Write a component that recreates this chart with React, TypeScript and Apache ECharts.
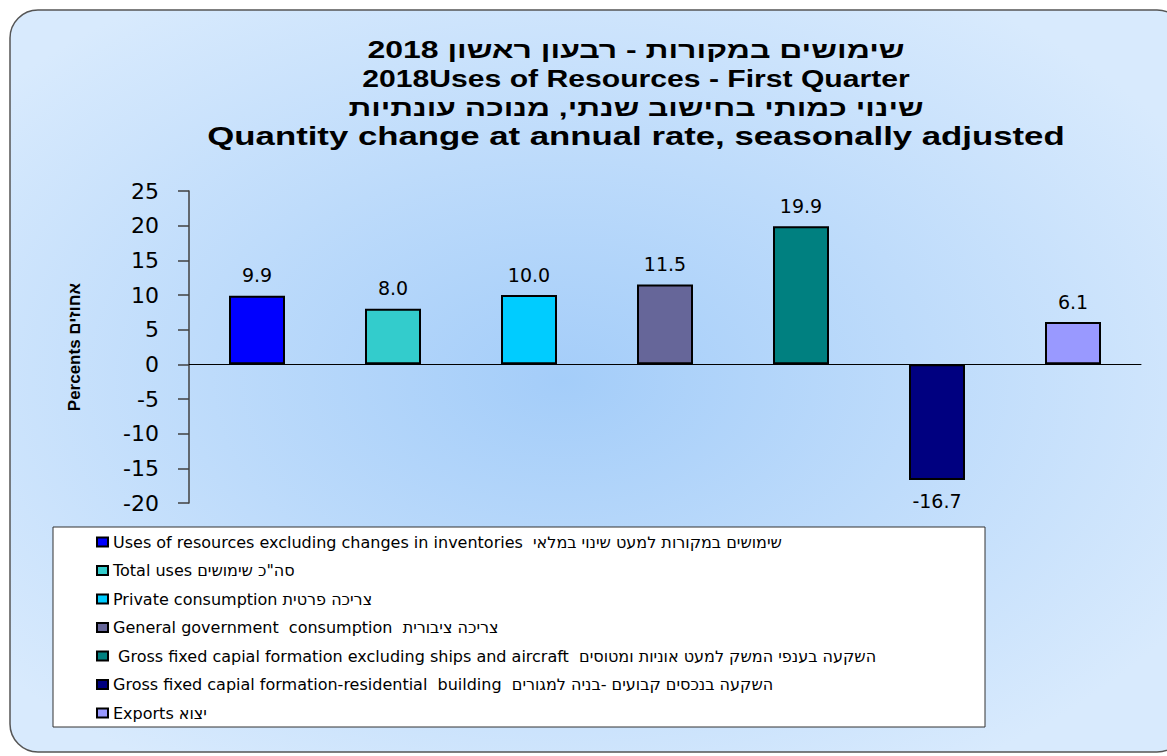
import React, { useEffect, useRef } from "react";
import * as echarts from "echarts";

const titleLines = [
  "שימושים במקורות - רבעון ראשון 2018",
  "2018Uses of Resources - First Quarter",
  "שינוי כמותי בחישוב שנתי, מנוכה עונתיות",
  "Quantity change at annual rate, seasonally adjusted",
];

const seriesNames = [
  "Uses of resources excluding changes in inventories  שימושים במקורות למעט שינוי במלאי",
  "Total uses סה\"כ שימושים",
  "Private consumption צריכה פרטית",
  "General government  consumption  צריכה ציבורית",
  " Gross fixed capial formation excluding ships and aircraft  השקעה בענפי המשק למעט אוניות ומטוסים",
  "Gross fixed capial formation-residential  building  השקעה בנכסים קבועים -בניה למגורים",
  "Exports יצוא",
];

const values = [9.9, 8.0, 10.0, 11.5, 19.9, -16.7, 6.1];

const barColors = ["#0000ff", "#33cccc", "#00ccff", "#666699", "#008080", "#000080", "#9999ff"];

const yAxisName = "Percents אחוזים";
const yMin = -20;
const yMax = 25;
const yInterval = 5;

export default function App() {
  const ref = useRef<HTMLDivElement>(null);

  useEffect(() => {
    document.body.style.margin = "0";
    if (!ref.current) return;
    const chart = echarts.init(ref.current, null, { renderer: "svg" });

    const titleSpec = [
      { y: 50, size: 23, sx: 1.39 },
      { y: 79, size: 23, sx: 1.31 },
      { y: 108, size: 23, sx: 1.38 },
      { y: 136, size: 25, sx: 1.39 },
    ];

    const option: any = {
      animation: false,
      graphic: [
        {
          type: "rect",
          z: 0,
          shape: { x: 10, y: 10, width: 1175, height: 742, r: 28 },
          style: {
            fill: {
              type: "radial",
              x: 0.47,
              y: 0.5,
              r: 0.62,
              colorStops: [
                { offset: 0, color: "#a4cdf9" },
                { offset: 1, color: "#d8eafd" },
              ],
            },
            stroke: "#555555",
            lineWidth: 1.5,
          },
        },
        {
          type: "rect",
          z: 1,
          shape: { x: 53, y: 527, width: 932, height: 200 },
          style: { fill: "#ffffff", stroke: "#333333", lineWidth: 1 },
        },
        ...titleLines.map((t, i) => ({
          type: "text",
          z: 5,
          x: 636,
          y: titleSpec[i].y,
          scaleX: titleSpec[i].sx,
          style: {
            text: t,
            font: `bold ${titleSpec[i].size}px "Liberation Sans", Arial, sans-serif`,
            fill: "#000000",
            textAlign: "center",
            textVerticalAlign: "middle",
          },
        })),
      ],
      legend: {
        orient: "vertical",
        left: 96,
        top: 534,
        padding: 0,
        itemWidth: 11,
        itemHeight: 9,
        itemGap: 12.5,
        icon: "rect",
        selectedMode: false,
        itemStyle: { borderColor: "#000000", borderWidth: 2 },
        textStyle: {
          fontFamily: "DejaVu Sans",
          fontSize: 16,
          color: "#000000",
        },
        data: seriesNames,
      },
      grid: { left: 189, right: 26, top: 191, bottom: 253, containLabel: false },
      xAxis: {
        type: "category",
        data: seriesNames,
        axisLabel: { show: false },
        axisTick: { show: false },
        axisLine: { onZero: true, lineStyle: { color: "#000000", width: 1 } },
        splitLine: { show: false },
      },
      yAxis: {
        type: "value",
        min: yMin,
        max: yMax,
        interval: yInterval,
        name: yAxisName,
        nameLocation: "middle",
        nameGap: 106,
        nameTextStyle: {
          fontFamily: "Liberation Sans",
          fontSize: 17,
          fontWeight: "bold",
          color: "#000000",
        },
        axisLine: { show: true, lineStyle: { color: "#404040", width: 1.5 } },
        axisTick: { show: true, length: 11, lineStyle: { color: "#404040", width: 1.5 } },
        axisLabel: {
          margin: 30,
          fontFamily: "DejaVu Sans",
          fontSize: 22,
          color: "#000000",
        },
        splitLine: { show: false },
      },
      series: seriesNames.map((name, i) => ({
        name,
        type: "bar",
        stack: "all",
        barWidth: 56,
        itemStyle: { color: barColors[i], borderColor: "#000000", borderWidth: 2 },
        label: {
          show: true,
          position: values[i] >= 0 ? "top" : "bottom",
          distance: 11,
          fontFamily: "DejaVu Sans",
          fontSize: 19,
          color: "#000000",
          formatter: (p: any) => Number(p.value).toFixed(1),
        },
        data: values.map((v, j) => (j === i ? v : "-")),
      })),
    };

    chart.setOption(option);
    return () => chart.dispose();
  }, []);

  return <div ref={ref} style={{ width: 1167, height: 756 }} />;
}
